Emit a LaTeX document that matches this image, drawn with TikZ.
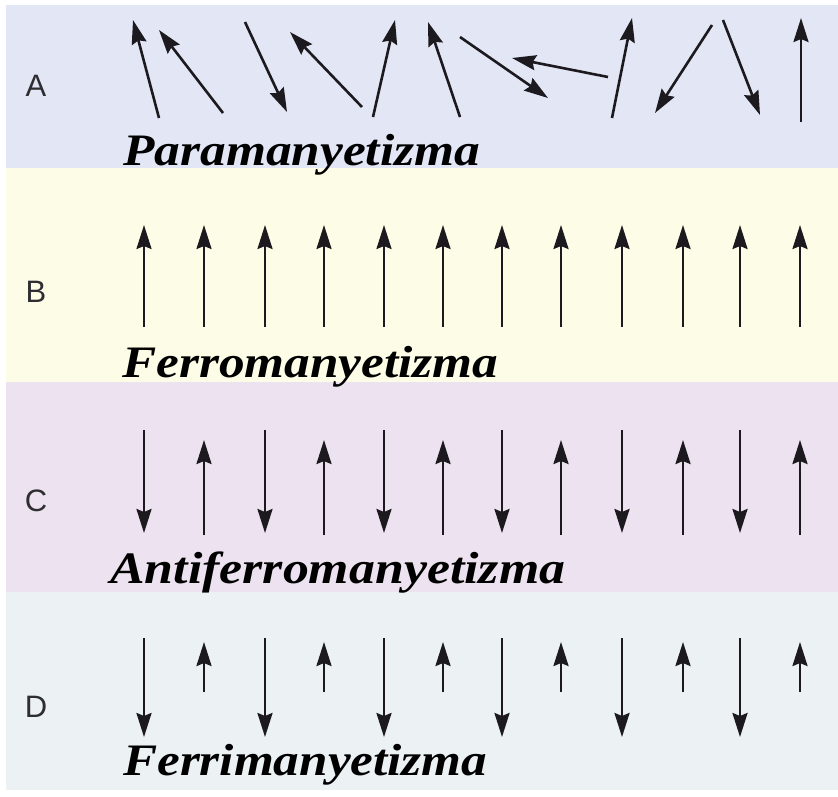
\documentclass[tikz,border=0pt]{standalone}
\usepackage{fontspec}
\setmainfont{Liberation Serif}
\newfontfamily\lblfont{Liberation Sans}
\usetikzlibrary{arrows.meta}
\definecolor{bgA}{RGB}{226,230,245}
\definecolor{bgB}{RGB}{253,253,231}
\definecolor{bgC}{RGB}{237,226,239}
\definecolor{bgD}{RGB}{236,241,243}
\definecolor{arrowcol}{RGB}{28,26,30}
\definecolor{lblcol}{RGB}{45,45,50}
\begin{document}
\begin{tikzpicture}[x=1pt,y=-1pt,
  spin/.style={line width=2.6pt, draw=arrowcol, -{Stealth[length=24pt,width=15pt,inset=3pt]}},
  rowlbl/.style={font=\lblfont\fontsize{31pt}{31pt}\selectfont, text=lblcol, inner sep=0pt},
  title/.style={font=\fontsize{45pt}{45pt}\selectfont\bfseries\itshape, text=black, inner sep=0pt, anchor=base west}]
\useasboundingbox (0,0) rectangle (838,796);
\fill[white] (0,0) rectangle (838,796);
\fill[bgA] (6,5) rectangle (838,168);
\fill[bgB] (6,168) rectangle (838,382);
\fill[bgC] (6,382) rectangle (838,592);
\fill[bgD] (6,592) rectangle (838,790);

% row labels
\node[rowlbl] (lA) at (36,86) {A};
\node[rowlbl] (lB) at (36,292) {B};
\node[rowlbl] (lC) at (36,501) {C};
\node[rowlbl] (lD) at (36,707) {D};

% A: paramagnetism
\draw[spin] (159,118) -- (133,20);
\draw[spin] (223,113) -- (159,30);
\draw[spin] (245,22) -- (287,112);
\draw[spin] (362,107) -- (290,32);
\draw[spin] (373,117) -- (395,20);
\draw[spin] (460,117) -- (428,22);
\draw[spin] (460,37) -- (548,98);
\draw[spin] (608,77) -- (512,58);
\draw[spin] (612,118) -- (632,18);
\draw[spin] (712,25) -- (655,113);
\draw[spin] (723,20) -- (760,115);
\draw[spin] (801,122) -- (801,18);

% B: ferromagnetism
\foreach \x in {144,204,265,324,384,443,502,561,622,683,740,800}
  \draw[spin] (\x,327) -- (\x,225);

% C: antiferromagnetism
\foreach \x in {144,265,384,502,622,740}
  \draw[spin] (\x,430) -- (\x,533);
\foreach \x in {204,324,443,561,683,800}
  \draw[spin] (\x,535) -- (\x,440);

% D: ferrimagnetism
\foreach \x in {144,265,384,502,622,740}
  \draw[spin] (\x,638) -- (\x,737);
\foreach \x in {204,324,443,561,683,800}
  \draw[spin] (\x,692) -- (\x,642);

% titles
\node[title] (tA) at (123,165) {\resizebox{357pt}{\height}{Paramanyetizma}};
\node[title] (tB) at (122,377) {\resizebox{376pt}{\height}{Ferromanyetizma}};
\node[title] (tC) at (110,583) {\resizebox{455pt}{\height}{Antiferromanyetizma}};
\node[title] (tD) at (123,775) {\resizebox{364pt}{\height}{Ferrimanyetizma}};
\end{tikzpicture}
\end{document}
